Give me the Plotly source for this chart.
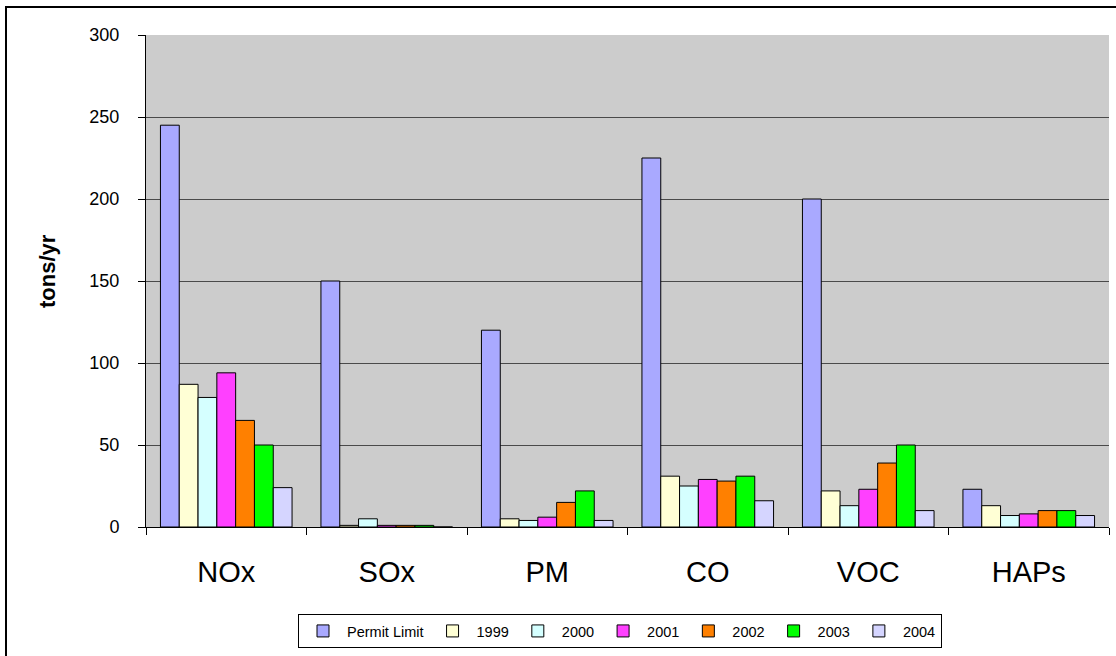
import plotly.graph_objects as go

categories = ["NOx", "SOx", "PM", "CO", "VOC", "HAPs"]
series_names = ["Permit Limit", "1999", "2000", "2001", "2002", "2003", "2004"]
permit_limit = [245, 150, 120, 225, 200, 23]
y1999 = [87, 1, 5, 31, 22, 13]
y2000 = [79, 5, 4, 25, 13, 7]
y2001 = [94, 1, 6, 29, 23, 8]
y2002 = [65, 1, 15, 28, 39, 10]
y2003 = [50, 1, 22, 31, 50, 10]
y2004 = [24, 0, 4, 16, 10, 7]
series_values = [permit_limit, y1999, y2000, y2001, y2002, y2003, y2004]
colors = ["#A9A9FF", "#FFFFD5", "#D5FFFF", "#FF40FF", "#FF8000", "#00FF00", "#D5D5FF"]
y_ticks = [0, 50, 100, 150, 200, 250, 300]

FONT = "Arial, 'Liberation Sans', sans-serif"

fig = go.Figure()
for name, vals, col in zip(series_names, series_values, colors):
    fig.add_trace(go.Bar(
        x=categories, y=vals, name=name,
        marker=dict(color=col, line=dict(color="#000000", width=1)),
    ))

W, H = 1116, 656
L, R, T, B = 146, 7, 35, 129
pw, ph = W - L - R, H - T - B

def px_x(p):
    return (p - L) / pw

def px_y(p):
    return (H - B - p) / ph

fig.update_layout(
    width=W, height=H,
    margin=dict(l=L, r=R, t=T, b=B, pad=0),
    paper_bgcolor="#FFFFFF",
    plot_bgcolor="#CCCCCC",
    barmode="group",
    bargap=0.18,
    bargroupgap=0,
    font=dict(family=FONT, color="#000000"),
    showlegend=True,
    legend=dict(
        orientation="h",
        x=px_x(298), y=px_y(614), xanchor="left", yanchor="top",
        bordercolor="#000000", borderwidth=1, bgcolor="#FFFFFF",
        font=dict(family=FONT, size=14.5, color="#000000"),
        itemwidth=38,
        traceorder="normal",
    ),
    xaxis=dict(
        type="category",
        tickson="boundaries",
        ticks="outside", ticklen=7, tickcolor="#000000",
        showline=True, linecolor="#000000", linewidth=1,
        showgrid=False,
        tickfont=dict(family=FONT, size=29, color="#000000"),
        ticklabelstandoff=19,
    ),
    yaxis=dict(
        range=[0, 300],
        tickvals=y_ticks,
        ticks="outside", ticklen=7, tickcolor="#000000",
        showline=True, linecolor="#000000", linewidth=1,
        showgrid=True, gridcolor="#4A4A4A", gridwidth=1,
        zeroline=False,
        tickfont=dict(family=FONT, size=18, color="#000000"),
        ticklabelstandoff=15,
    ),
    annotations=[dict(
        text="<b>tons/yr</b>", textangle=-90,
        xref="paper", yref="paper",
        x=px_x(47), y=px_y(271), xanchor="center", yanchor="middle",
        showarrow=False,
        font=dict(family=FONT, size=22, color="#000000"),
    )],
    shapes=[dict(
        type="rect", xref="paper", yref="paper",
        x0=px_x(6), x1=px_x(1125), y0=px_y(7), y1=px_y(670),
        line=dict(color="#000000", width=2),
        fillcolor="rgba(0,0,0,0)", layer="above",
    )],
)

fig.write_html(
    "out.html",
    config={"displayModeBar": False},
    post_script="document.body.style.margin='0';document.body.style.padding='0';",
)
